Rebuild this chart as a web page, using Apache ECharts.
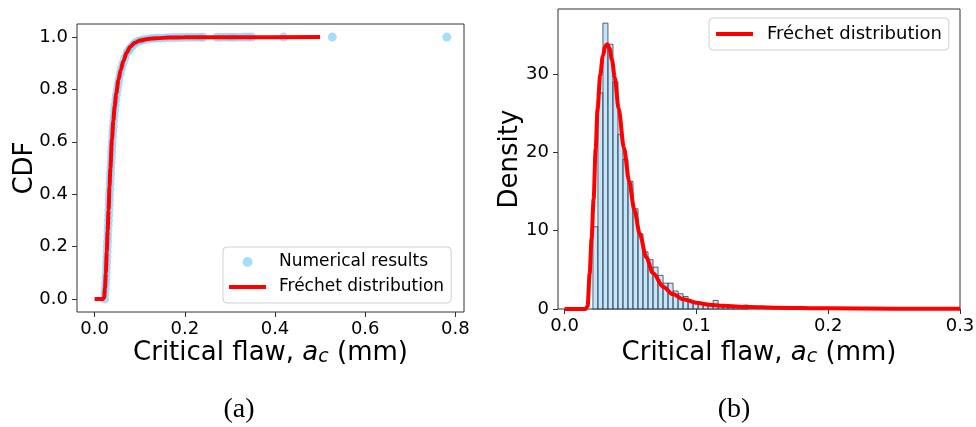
<!DOCTYPE html>
<html>
<head>
<meta charset="utf-8">
<script src="https://cdn.jsdelivr.net/npm/echarts@6/dist/echarts.min.js"></script>
<style>
  html, body { margin: 0; padding: 0; background: #fff; }
  #chart { width: 976px; height: 427px; }
</style>
</head>
<body>
<div id="chart"></div>
<script>
// (a) empirical CDF of the simulated critical flaw sizes (mm)
const cdfSampleX = [0.0222, 0.0227, 0.0238, 0.0245, 0.0252, 0.0258, 0.0263, 0.0268, 0.0273, 0.0278,
  0.0283, 0.0288, 0.0293, 0.0298, 0.0303, 0.0308, 0.0313, 0.0318, 0.0322, 0.0327,
  0.0331, 0.0336, 0.0341, 0.0347, 0.0353, 0.0358, 0.0365, 0.0371, 0.0377, 0.0384,
  0.039, 0.0397, 0.0406, 0.0415, 0.0423, 0.0434, 0.0445, 0.0456, 0.047, 0.0484,
  0.0503, 0.0522, 0.0542, 0.0568, 0.0595, 0.0631, 0.0671, 0.0718, 0.0758, 0.0798,
  0.0855, 0.0898, 0.0958, 0.1018, 0.109, 0.118, 0.127, 0.136, 0.145, 0.155,
  0.165, 0.175, 0.185, 0.195, 0.205, 0.215, 0.225, 0.234, 0.241, 0.271,
  0.28, 0.29, 0.298, 0.305, 0.312, 0.322, 0.332, 0.341, 0.349, 0.419,
  0.527, 0.781];
const cdfSampleY = [0.0, 0.02, 0.04, 0.06, 0.08, 0.1, 0.12, 0.14, 0.16, 0.18,
  0.2, 0.22, 0.24, 0.26, 0.28, 0.3, 0.32, 0.34, 0.36, 0.38,
  0.4, 0.42, 0.44, 0.46, 0.48, 0.5, 0.52, 0.54, 0.56, 0.58,
  0.6, 0.62, 0.64, 0.66, 0.68, 0.7, 0.72, 0.74, 0.76, 0.78,
  0.8, 0.82, 0.84, 0.86, 0.88, 0.9, 0.92, 0.94, 0.95, 0.96,
  0.97, 0.978, 0.983, 0.987, 0.99, 0.993, 0.9945, 0.996, 0.9965, 0.997,
  0.9978, 0.9982, 0.9985, 0.9988, 0.999, 0.9992, 0.9993, 0.9994, 0.9995, 0.9996,
  0.9996, 0.9997, 0.9997, 0.9998, 0.9998, 0.9998, 0.9999, 0.9999, 0.9999, 0.9999,
  1.0, 1.0];

// (a) fitted Fréchet CDF
const cdfFitX = [0, 0.019, 0.021, 0.023, 0.025, 0.027, 0.029, 0.031, 0.033, 0.035,
  0.0385, 0.0415, 0.0445, 0.048, 0.053, 0.058, 0.064, 0.071, 0.079, 0.089,
  0.101, 0.118, 0.138, 0.165, 0.2, 0.3, 0.5];
const cdfFitY = [0, 0, 0.005, 0.04, 0.1, 0.18, 0.26, 0.34, 0.43, 0.5,
  0.61, 0.68, 0.735, 0.785, 0.837, 0.875, 0.91, 0.94, 0.963, 0.978,
  0.987, 0.993, 0.996, 0.998, 0.999, 0.9998, 1.0];

// (b) histogram of the same samples (density per bin)
const binStart = 0.0215;
const binWidth = 0.0038;
const binDensity = [10.5, 27.6, 36.5, 33.8, 29.0, 22.3, 19.1, 16.3, 12.8, 9.6,
  7.3, 6.3, 5.35, 4.3, 3.3, 3.3, 2.3, 1.95, 1.6, 1.1,
  0.97, 0.68, 0.6, 0.5, 1.1, 0.5, 0.35, 0.3, 0.25, 0.2, 0.5];

// (b) fitted Fréchet PDF
const pdfFitX = [0, 0.016, 0.0175, 0.019, 0.0205, 0.022, 0.0236, 0.025, 0.027, 0.029,
  0.031, 0.0324, 0.034, 0.036, 0.038, 0.041, 0.045, 0.049, 0.053, 0.057,
  0.062, 0.067, 0.075, 0.082, 0.09, 0.1, 0.11, 0.12, 0.14, 0.16,
  0.2, 0.25, 0.3];
const pdfFitY = [0, 0, 0.4, 4.5, 9.0, 14.0, 20.5, 25.5, 29.8, 32.3,
  33.6, 33.8, 33.3, 31.8, 29.6, 25.6, 20.6, 16.3, 12.6, 9.6,
  6.6, 4.6, 2.8, 1.9, 1.25, 0.8, 0.55, 0.4, 0.25, 0.17,
  0.08, 0.04, 0.02];

// tick positions
const cdfXTicks = [0, 0.2, 0.4, 0.6, 0.8];
const cdfYTicks = [0, 0.2, 0.4, 0.6, 0.8, 1.0];
const pdfXTicks = [0, 0.1, 0.2, 0.3];
const pdfYTicks = [0, 10, 20, 30];

const FONT = 'DejaVu Sans';
const SERIF = 'Liberation Serif';
const RED = '#ff0000';
const SKY = 'rgb(135,206,250)';

// legend swatch for the fitted line: a thick horizontal bar centred in the icon box
const LINE_ICON = 'path://M0,0L0.01,0L0.01,0.01Z M0,3L37,3L37,7L0,7Z M0,10L0.01,10L0.01,9.99Z';

const zip = (xs, ys) => xs.map((x, i) => [x, ys[i]]);
const bins = binDensity.map((h, i) => [binStart + i * binWidth, binStart + (i + 1) * binWidth, h]);

const tickStyle = { color: '#333', width: 1 };
const labelStyle = { fontSize: 18, fontFamily: FONT, color: '#000' };

function valueAxis(gridIndex, min, max, ticks, fmt, margin) {
  return {
    type: 'value', gridIndex, min, max,
    splitLine: { show: false },
    axisLine: { show: false, onZero: false },
    axisTick: { show: true, inside: false, length: 5, customValues: ticks, lineStyle: tickStyle },
    axisLabel: Object.assign({ customValues: ticks, formatter: fmt, margin }, labelStyle)
  };
}

const axisTitleRich = {
  n: { fontSize: 26, fontFamily: FONT, color: '#000' },
  i: { fontSize: 26, fontFamily: FONT, fontStyle: 'italic', color: '#000' },
  s: { fontSize: 19, fontFamily: FONT, fontStyle: 'italic', color: '#000', padding: [9, 0, 0, 0] }
};
const flawTitle = '{n|Critical flaw, }{i|a}{s|c}{n| (mm)}';

const legendBase = {
  orient: 'vertical', itemHeight: 10, itemGap: 5,
  borderColor: '#d0d0d0', borderWidth: 1, borderRadius: 4,
  backgroundColor: 'rgba(255,255,255,0.8)',
  selectedMode: false
};

const chart = echarts.init(document.getElementById('chart'), null, { renderer: 'canvas' });

chart.setOption({
  animation: false,
  backgroundColor: '#fff',
  grid: [
    { left: 77, top: 24, width: 387, height: 288, show: true, borderColor: '#333', borderWidth: 1,
      backgroundColor: 'transparent', containLabel: false, outerBoundsMode: 'none' },
    { left: 558, top: 9, width: 402, height: 300, show: true, borderColor: '#333', borderWidth: 1,
      backgroundColor: 'transparent', containLabel: false, outerBoundsMode: 'none' }
  ],
  xAxis: [
    valueAxis(0, -0.039, 0.819, cdfXTicks, v => v.toFixed(1), 8),
    valueAxis(1, -0.005, 0.3, pdfXTicks, v => v.toFixed(1), 8)
  ],
  yAxis: [
    valueAxis(0, -0.05, 1.05, cdfYTicks, v => v.toFixed(1), 9),
    valueAxis(1, 0, 38.3, pdfYTicks, v => String(Math.round(v)), 9)
  ],
  legend: [
    Object.assign({}, legendBase, {
      left: 223, top: 247, itemWidth: 37,
      padding: [5, 7, 6, 6],
      data: [
        { name: 'Numerical results', icon: 'circle' },
        { name: 'Fréchet distribution', icon: LINE_ICON, itemStyle: { color: RED } }
      ],
      textStyle: { fontSize: 17, fontFamily: FONT, color: '#000', lineHeight: 20, padding: [0, 0, 0, 8] }
    }),
    Object.assign({}, legendBase, {
      left: 709, top: 18, itemWidth: 39,
      padding: [6, 7, 6, 7],
      data: [{ name: 'Fréchet distribution', icon: LINE_ICON, itemStyle: { color: RED } }],
      textStyle: { fontSize: 18, fontFamily: FONT, color: '#000', lineHeight: 20, padding: [0, 0, 0, 8] }
    })
  ],
  series: [
    {
      name: 'Numerical results', type: 'scatter', xAxisIndex: 0, yAxisIndex: 0,
      data: zip(cdfSampleX, cdfSampleY),
      symbol: 'circle', symbolSize: 9,
      itemStyle: { color: SKY, opacity: 0.72 },
      emphasis: { disabled: true }
    },
    {
      name: 'Fréchet distribution', type: 'line', xAxisIndex: 0, yAxisIndex: 0,
      data: zip(cdfFitX, cdfFitY),
      symbol: 'none', smooth: 0.3, smoothMonotone: 'x',
      lineStyle: { color: RED, width: 4 },
      itemStyle: { color: RED },
      emphasis: { disabled: true }
    },
    {
      name: 'Density histogram', type: 'custom', xAxisIndex: 1, yAxisIndex: 1,
      data: bins,
      encode: { x: [0, 1], y: 2 },
      renderItem: function (params, api) {
        const topLeft = api.coord([api.value(0), api.value(2)]);
        const bottomRight = api.coord([api.value(1), 0]);
        return {
          type: 'rect',
          shape: { x: topLeft[0], y: topLeft[1], width: bottomRight[0] - topLeft[0], height: bottomRight[1] - topLeft[1] },
          style: { fill: 'rgba(135,206,250,0.5)', stroke: 'rgba(40,50,60,0.75)', lineWidth: 1 }
        };
      },
      emphasis: { disabled: true }
    },
    {
      name: 'Fréchet distribution', type: 'line', xAxisIndex: 1, yAxisIndex: 1,
      data: zip(pdfFitX, pdfFitY),
      symbol: 'none', smooth: 0.3, smoothMonotone: 'x',
      lineStyle: { color: RED, width: 4 },
      itemStyle: { color: RED },
      emphasis: { disabled: true }
    }
  ],
  graphic: [
    { type: 'text', x: 270.5, y: 353, style: { text: flawTitle, rich: axisTitleRich, align: 'center', verticalAlign: 'middle' } },
    { type: 'text', x: 759, y: 353, style: { text: flawTitle, rich: axisTitleRich, align: 'center', verticalAlign: 'middle' } },
    { type: 'text', x: 25, y: 168, rotation: Math.PI / 2,
      style: { text: 'CDF', fontSize: 26, fontFamily: FONT, fill: '#000', align: 'center', verticalAlign: 'middle' } },
    { type: 'text', x: 510, y: 159, rotation: Math.PI / 2,
      style: { text: 'Density', fontSize: 26, fontFamily: FONT, fill: '#000', align: 'center', verticalAlign: 'middle' } },
    { type: 'text', x: 239, y: 410,
      style: { text: '(a)', fontSize: 28, fontFamily: SERIF, fill: '#000', align: 'center', verticalAlign: 'middle' } },
    { type: 'text', x: 734, y: 410,
      style: { text: '(b)', fontSize: 28, fontFamily: SERIF, fill: '#000', align: 'center', verticalAlign: 'middle' } }
  ]
});
</script>
</body>
</html>
